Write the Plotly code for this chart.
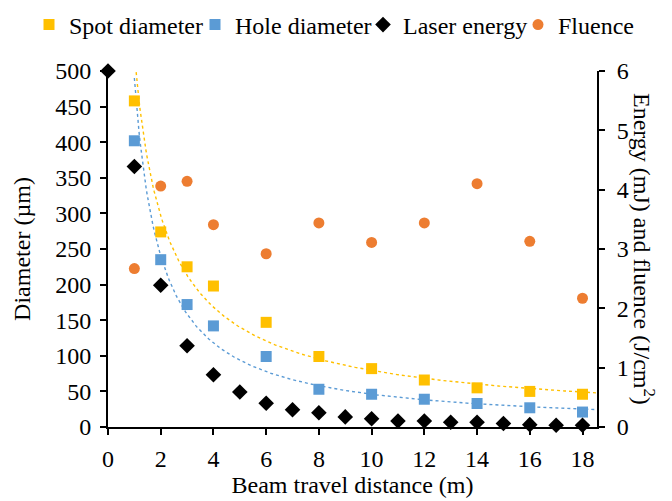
import numpy as np
import plotly.graph_objects as go

# Data
dist_diam = [1, 2, 3, 4, 6, 8, 10, 12, 14, 16, 18]
spot_diameter = [458, 274, 225, 198, 147, 99, 82, 66, 55, 50, 46]
hole_diameter = [402, 235, 172, 142, 99, 53, 46, 39, 33, 27, 21]

dist_energy = list(range(0, 19))
laser_energy = [6.0, 4.39, 2.39, 1.37, 0.88, 0.59, 0.40, 0.29, 0.24, 0.17,
                0.14, 0.10, 0.10, 0.08, 0.08, 0.06, 0.04, 0.03, 0.03]

dist_fluence = [1, 2, 3, 4, 6, 8, 10, 12, 14, 16, 18]
fluence = [2.67, 4.06, 4.14, 3.41, 2.92, 3.44, 3.11, 3.44, 4.10, 3.13, 2.17]

x_ticks = list(range(0, 19, 2))

FONT = "Liberation Serif"
YELLOW = "#FFC000"
BLUE = "#5B9BD5"
ORANGE = "#ED7D31"
OFF = 8                      # page offset of the figure (body margin)
W, H = 672 - OFF, 501 - OFF


def power_fit(x, y):
    b, lna = np.polyfit(np.log(x), np.log(y), 1)
    return np.exp(lna), b


xs = np.linspace(1.0, 18.6, 400)
a_s, b_s = power_fit(dist_diam, spot_diameter)
a_h, b_h = power_fit(dist_diam, hole_diameter)

fig = go.Figure()

fig.add_trace(go.Scatter(x=xs, y=a_s * xs ** b_s, mode="lines",
                         line=dict(color=YELLOW, width=1.4, dash="dot"),
                         showlegend=False, hoverinfo="skip"))
fig.add_trace(go.Scatter(x=xs, y=a_h * xs ** b_h, mode="lines",
                         line=dict(color=BLUE, width=1.4, dash="dot"),
                         showlegend=False, hoverinfo="skip"))

fig.add_trace(go.Scatter(x=dist_diam, y=spot_diameter, mode="markers",
                         name="Spot diameter", legend="legend2",
                         marker=dict(symbol="square", size=11, color=YELLOW)))
fig.add_trace(go.Scatter(x=dist_diam, y=hole_diameter, mode="markers",
                         name="Hole diameter", legend="legend3",
                         marker=dict(symbol="square", size=11, color=BLUE)))
fig.add_trace(go.Scatter(x=dist_energy, y=laser_energy, mode="markers",
                         name="Laser energy", yaxis="y2", cliponaxis=False,
                         legend="legend4",
                         marker=dict(symbol="diamond", size=12, color="black")))
fig.add_trace(go.Scatter(x=dist_fluence, y=fluence, mode="markers",
                         name="Fluence", yaxis="y2", legend="legend5",
                         marker=dict(symbol="circle", size=11, color=ORANGE)))

axis_common = dict(showgrid=False, zeroline=False, showline=True,
                   linecolor="black", linewidth=2, ticks="outside",
                   ticklen=6, tickwidth=2, tickcolor="black",
                   tickfont=dict(family=FONT, size=24, color="black"))


def leg(text_start_px):
    return dict(orientation="h", xref="container", yref="container",
                x=(text_start_px - 40 - OFF) / W, xanchor="left",
                y=1 - (25 - OFF) / H, yanchor="middle",
                font=dict(family=FONT, size=24, color="black"),
                itemwidth=30, bgcolor="rgba(0,0,0,0)", borderwidth=0)


fig.update_layout(
    width=W, height=H,
    margin=dict(l=100, r=75, t=63, b=73.5, autoexpand=False),
    paper_bgcolor="white", plot_bgcolor="white",
    font=dict(family=FONT, size=24, color="black"),
    xaxis=dict(range=[0, 18.55], tickvals=x_ticks, ticklabelstandoff=3,
               title=dict(text="Beam travel distance (m)", standoff=0,
                          font=dict(family=FONT, size=24)),
               **axis_common),
    yaxis=dict(range=[0, 500], dtick=50, ticklabelstandoff=4,
               title=dict(text="Diameter (µm)", standoff=18,
                          font=dict(family=FONT, size=24)),
               **axis_common),
    yaxis2=dict(range=[0, 6], dtick=1, overlaying="y", side="right",
                ticklabelstandoff=7, **axis_common),
    showlegend=True,
    legend2=leg(69),
    legend3=leg(235),
    legend4=leg(403),
    legend5=leg(558),
    annotations=[dict(text="Energy (mJ) and fluence (J/cm<sup>2</sup>)",
                      xref="paper", yref="paper", x=1.0, xshift=47,
                      xanchor="center", yanchor="middle",
                      y=0.5, textangle=90, showarrow=False,
                      font=dict(family=FONT, size=24, color="black"))],
)

fig.write_html("out.html")
